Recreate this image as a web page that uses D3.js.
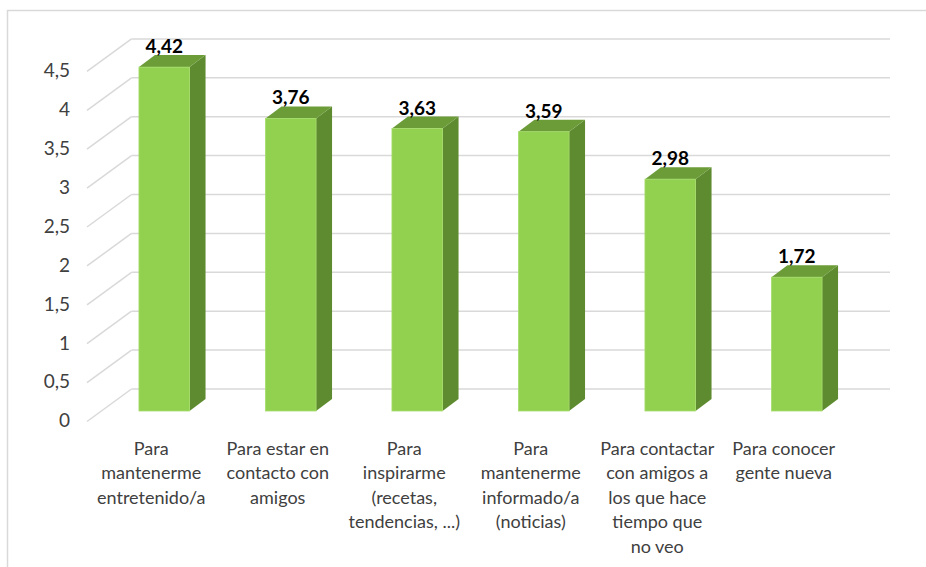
<!DOCTYPE html>
<html>
<head>
<meta charset="utf-8">
<script src="https://cdn.jsdelivr.net/npm/d3@7"></script>
<style>
  body { margin: 0; background: #fff; }
  text { font-family: Lato, "Open Sans", sans-serif; }
</style>
</head>
<body>
<svg id="chart" width="926" height="567"></svg>
<script>
// data
var categories = [
  "Para\nmantenerme\nentretenido/a",
  "Para estar en\ncontacto con\namigos",
  "Para\ninspirarme\n(recetas,\ntendencias, ...)",
  "Para\nmantenerme\ninformado/a\n(noticias)",
  "Para contactar\ncon amigos a\nlos que hace\ntiempo que\nno veo",
  "Para conocer\ngente nueva"
];
var values = [4.42, 3.76, 3.63, 3.59, 2.98, 1.72];
var ticks = [0, 0.5, 1, 1.5, 2, 2.5, 3, 3.5, 4, 4.5];

var svg = d3.select("#chart");

// fake 3d: front plane, bar front, bar back, back wall offsets
var wall = {dx: 43.5, dy: -32.5};
var barFront = {dx: 13, dy: -10.5};
var barDepth = {dx: 16, dy: -12};

var x = d3.scaleBand()
  .domain(categories)
  .range([88, 847])
  .paddingInner(0.6)
  .paddingOuter(0.3);

var y = d3.scaleLinear()
  .domain([0, 4.5])
  .range([421.5, 71.4]);

var fmt = function(v) { return String(v).replace(".", ","); };

// frame (cut at right and bottom like the screenshot)
svg.append("rect")
  .attr("x", 7.5).attr("y", 10.5)
  .attr("width", 940).attr("height", 580)
  .attr("fill", "none")
  .attr("stroke", "#d9d9d9")
  .attr("stroke-width", 1.5);

// gridlines on the back wall + diagonals on the side
var grid = svg.append("g").attr("stroke", "#d9d9d9").attr("stroke-width", 1.5);
grid.selectAll("line.h").data(ticks).enter().append("line")
  .attr("class", "h")
  .attr("x1", 88 + wall.dx).attr("x2", 890)
  .attr("y1", function(d) { return y(d) + wall.dy; })
  .attr("y2", function(d) { return y(d) + wall.dy; });
grid.selectAll("line.d").data(ticks).enter().append("line")
  .attr("class", "d")
  .attr("x1", 87).attr("x2", 88 + wall.dx)
  .attr("y1", function(d) { return y(d); })
  .attr("y2", function(d) { return y(d) + wall.dy; });

// y tick labels
svg.append("g").selectAll("text").data(ticks).enter().append("text")
  .attr("x", 70)
  .attr("y", function(d) { return y(d) + 1; })
  .attr("text-anchor", "end")
  .attr("dominant-baseline", "middle")
  .attr("font-size", 19)
  .attr("fill", "#404040")
  .text(fmt);

// bars
var bars = svg.append("g").selectAll("g").data(values).enter().append("g");

function bx(i) { return x(categories[i]) + barFront.dx; }
var bw = x.bandwidth();

bars.append("path") // side
  .attr("fill", "#5e8b30")
  .attr("d", function(d, i) {
    var x1 = bx(i) + bw, y0 = y(0) + barFront.dy, y1 = y(d) + barFront.dy;
    return "M" + x1 + "," + y0 + "L" + x1 + "," + y1 +
      "L" + (x1 + barDepth.dx) + "," + (y1 + barDepth.dy) +
      "L" + (x1 + barDepth.dx) + "," + (y0 + barDepth.dy) + "Z";
  });
bars.append("path") // top
  .attr("fill", "#6b9c37")
  .attr("d", function(d, i) {
    var x0 = bx(i), y1 = y(d) + barFront.dy;
    return "M" + x0 + "," + y1 + "L" + (x0 + bw) + "," + y1 +
      "L" + (x0 + bw + barDepth.dx) + "," + (y1 + barDepth.dy) +
      "L" + (x0 + barDepth.dx) + "," + (y1 + barDepth.dy) + "Z";
  });
bars.append("rect") // front
  .attr("x", function(d, i) { return bx(i); })
  .attr("y", function(d) { return y(d) + barFront.dy; })
  .attr("width", bw)
  .attr("height", function(d) { return y(0) - y(d); })
  .attr("fill", "#92d050")
  .attr("stroke", "#a6dc6c")
  .attr("stroke-width", 0.8);

// value labels
bars.append("text")
  .attr("x", function(d, i) { return bx(i) + bw / 2; })
  .attr("y", function(d) { return y(d) + barFront.dy - 14; })
  .attr("text-anchor", "middle")
  .attr("font-size", 19)
  .attr("font-weight", "bold")
  .attr("fill", "#000")
  .text(function(d) { return d.toFixed(2).replace(".", ","); });

// category labels, wrapped as in the original
var cats = svg.append("g").selectAll("text").data(categories).enter().append("text")
  .attr("text-anchor", "middle")
  .attr("font-size", 18)
  .attr("fill", "#404040")
  .attr("transform", function(d) { return "translate(" + (x(d) + bw / 2) + ",454.5)"; });
cats.each(function(d) {
  var t = d3.select(this);
  d.split("\n").forEach(function(line, k) {
    t.append("tspan").attr("x", 0).attr("y", k * 24.5).text(line);
  });
});
</script>
</body>
</html>
